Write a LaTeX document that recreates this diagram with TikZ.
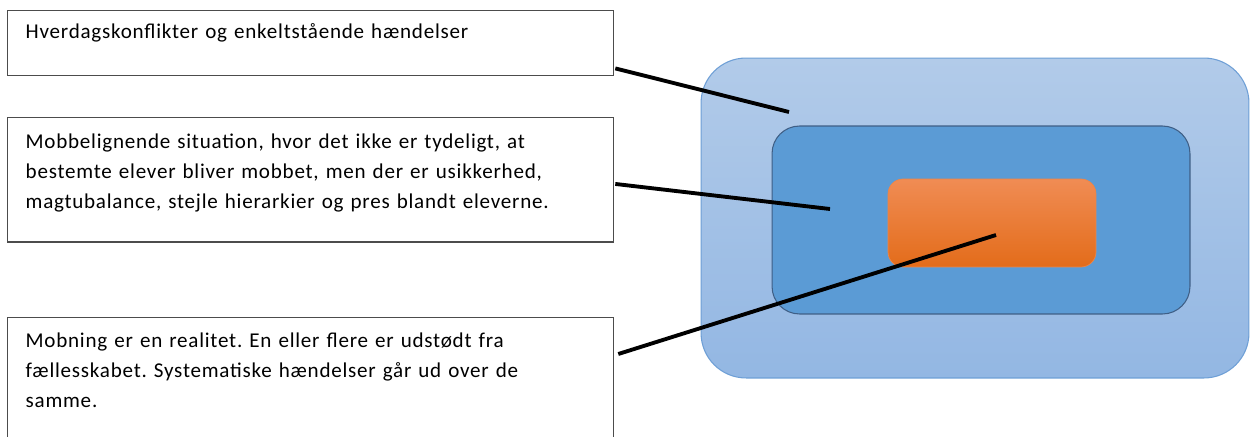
\documentclass[tikz,border=0pt]{standalone}
\usepackage{fontspec}
\setmainfont[LetterSpace=3.6]{Carlito}

\definecolor{outerblue}{HTML}{B2CBE9}
\definecolor{outerblueb}{HTML}{93B7E3}
\definecolor{outerline}{HTML}{6E9FD6}
\definecolor{innerblue}{HTML}{5B9BD5}
\definecolor{innerline}{HTML}{3F5F86}
\definecolor{orangetop}{HTML}{F08C54}
\definecolor{orangemid}{HTML}{F47F2B}
\definecolor{orangebot}{HTML}{E36C1A}

\tikzset{
  txtbox/.style={draw=black!70, line width=0.8pt, anchor=north west, text width=11.4cm,
    align=left, inner xsep=0.36cm, inner ysep=0pt, font=\fontsize{12}{17.1}\selectfont\frenchspacing},
  pointer/.style={line width=2.2pt, black}
}

\begin{document}
\begin{tikzpicture}[x=0.02cm,y=-0.02cm]
\useasboundingbox (0,0) rectangle (1250,436);
\clip (0,0) rectangle (1250,436);
\fill[white] (0,0) rectangle (1250,436);

\node[draw=outerline, line width=0.6pt, rounded corners=0.9cm, top color=outerblue, bottom color=outerblueb,
  minimum width=10.96cm, minimum height=6.4cm] (outer) at (975,218) {};
\node[draw=innerline, line width=0.6pt, rounded corners=0.55cm, fill=innerblue,
  minimum width=8.36cm, minimum height=3.76cm] (inner) at (981,220) {};
\node[draw=orangetop!80!orangebot, line width=0.4pt, rounded corners=0.3cm, top color=orangetop, middle color=orangemid, bottom color=orangebot,
  minimum width=4.16cm, minimum height=1.76cm] (core) at (992,223) {};

\node[txtbox, text height=0.56cm, text depth=0.74cm] (hverdag) at (7,10)
  {Hverdagskonflikter og enkeltstående hændelser};
\node[txtbox, text height=0.61cm, text depth=1.88cm] (mobbelign) at (7,117)
  {Mobbelignende situation, hvor det ikke er tydeligt, at\\bestemte elever bliver mobbet, men der er usikkerhed,\\magtubalance, stejle hierarkier og pres blandt eleverne.};
\node[txtbox, text height=0.6cm, text depth=2.4cm] (mobning) at (7,317)
  {Mobning er en realitet. En eller flere er udstødt fra\\fællesskabet. Systematiske hændelser går ud over de\\samme.};

\coordinate (tip1) at (789,112);
\coordinate (tip2) at (830,209);
\coordinate (tip3) at (996,235);

\draw[pointer] ([shift={(1,-8)}]hverdag.south east) -- (tip1);
\draw[pointer] ([shift={(1,4)}]mobbelign.east) -- (tip2);
\draw[pointer] ([shift={(4,37)}]mobning.north east) -- (tip3);
\end{tikzpicture}
\end{document}
